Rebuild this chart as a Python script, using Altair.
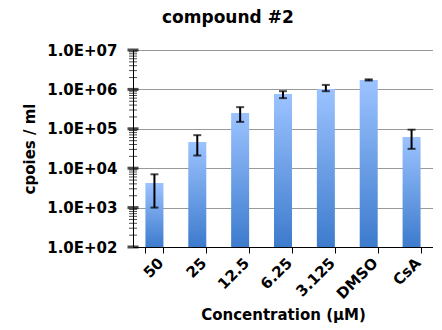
import altair as alt
import pandas as pd

categories = ["50", "25", "12.5", "6.25", "3.125", "DMSO", "CsA"]
values = [4200, 46000, 250000, 760000, 1030000, 1740000, 62000]
err_low = [1000, 21000, 150000, 600000, 900000, 1680000, 31000]
err_high = [7000, 69000, 355000, 900000, 1300000, 1800000, 95000]
decades = [1e2, 1e3, 1e4, 1e5, 1e6, 1e7]

df = pd.DataFrame({"cat": categories, "val": values, "lo": err_low, "hi": err_high, "base": [100] * len(categories)})
minor = [m * d for d in decades[:-1] for m in range(2, 10)]
tick_df = pd.DataFrame({"v": minor})
major_df = pd.DataFrame({"v": decades})

FONT = "DejaVu Sans"
yscale = alt.Scale(type="log", domain=[100, 1e7], nice=False)
xenc = alt.X("cat:N", sort=categories, scale=alt.Scale(paddingInner=0.58, paddingOuter=0.29),
             axis=alt.Axis(title="Concentration (µM)", labelAngle=-45, labelFont=FONT, labelFontSize=15,
                           labelFontWeight="bold", labelColor="black", titleFont=FONT, titleFontSize=15,
                           titleFontWeight="bold", titleColor="black", domainColor="black", tickColor="black",
                           tickBand="extent", tickSize=6, labelPadding=7, titlePadding=6, grid=False,
                           labelAlign="right", labelBaseline="middle", labelOffset=6))

bars = alt.Chart(df).mark_bar(
    size=18,
    color=alt.Gradient(gradient="linear", x1=0, x2=0, y1=0, y2=1,
                       stops=[alt.GradientStop(color="#9CC3FF", offset=0),
                              alt.GradientStop(color="#3D7BCD", offset=1)])
).encode(
    x=xenc,
    y=alt.Y("val:Q", scale=yscale,
            axis=alt.Axis(title="cpoies / ml", values=decades,
                          labelExpr="'1.0E+0' + round(log(datum.value)/LN10)",
                          labelFont=FONT, labelFontSize=15, labelFontWeight="bold", labelColor="black",
                          titleFont=FONT, titleFontSize=15, titleFontWeight="bold", titleColor="black",
                          tickSize=0, labelPadding=16, domainColor="black", gridColor="#999999",
                          titlePadding=9)),
    y2="base:Q",
)

rules = alt.Chart(df).mark_rule(color="black", strokeWidth=2).encode(
    x=alt.X("cat:N", sort=categories), y=alt.Y("lo:Q", scale=yscale), y2="hi:Q")
cap_lo = alt.Chart(df).mark_tick(color="black", size=8, thickness=2, orient="horizontal").encode(
    x=alt.X("cat:N", sort=categories), y=alt.Y("lo:Q", scale=yscale))
cap_hi = alt.Chart(df).mark_tick(color="black", size=8, thickness=2, orient="horizontal").encode(
    x=alt.X("cat:N", sort=categories), y=alt.Y("hi:Q", scale=yscale))

minor_ticks = alt.Chart(tick_df).mark_tick(color="black", size=8, thickness=1, orient="horizontal").encode(
    x=alt.value(0), y=alt.Y("v:Q", scale=yscale))
major_ticks = alt.Chart(major_df).mark_tick(color="black", size=11, thickness=3, orient="horizontal").encode(
    x=alt.value(0), y=alt.Y("v:Q", scale=yscale))

chart = alt.layer(bars, rules, cap_lo, cap_hi, minor_ticks, major_ticks).properties(
    width=300, height=197,
    title=alt.TitleParams("compound #2", font=FONT, fontSize=17, fontWeight="bold", color="black",
                          anchor="middle", frame="bounds", offset=16),
    padding={"left": 14, "top": 1, "right": 0, "bottom": 0},
).configure_view(stroke=None).configure(background="white")

chart.save("out.html", embed_options={"renderer": "svg", "actions": False})
